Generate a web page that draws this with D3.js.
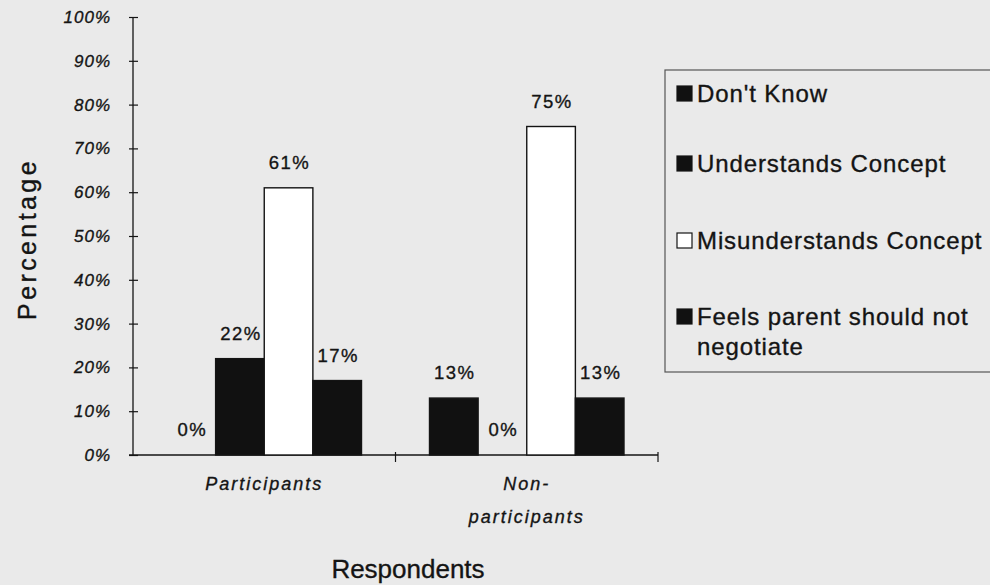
<!DOCTYPE html>
<html>
<head>
<meta charset="utf-8">
<script src="https://cdn.jsdelivr.net/npm/d3@7"></script>
<style>
  html, body { margin: 0; padding: 0; background: #eaeaea; }
  svg { display: block; font-family: Arial, "Liberation Sans", Helvetica, sans-serif; }
  text { stroke: #141414; stroke-width: 0.35px; }
</style>
</head>
<body>
<svg id="chart" width="990" height="585"></svg>
<script>
const categories = ["Participants", "Non-participants"];
const categoryLines = [["Participants"], ["Non-", "participants"]];
const series = ["Don't Know", "Understands Concept", "Misunderstands Concept", "Feels parent should not negotiate"];
const legendLines = [["Don't Know"], ["Understands Concept"], ["Misunderstands Concept"], ["Feels parent should not", "negotiate"]];
const seriesFill = ["#111", "#111", "#fff", "#111"];
const participantsValues = [0, 22, 61, 17];
const nonParticipantsValues = [13, 0, 75, 13];
const yTicks = [0, 10, 20, 30, 40, 50, 60, 70, 80, 90, 100];

const values = [participantsValues, nonParticipantsValues];

const svg = d3.select("#chart");
const ink = "#141414";

const y = d3.scaleLinear().domain([0, 100]).range([455, 17]);
const x0 = d3.scaleBand().domain(categories).range([133, 658]).padding(0);
const inset = 34;
const x1 = d3.scaleBand().domain(series).range([inset, x0.bandwidth() - inset]).padding(0);

// Y axis
const yAxis = d3.axisLeft(y).tickValues(yTicks).tickFormat(d => d + "%").tickSize(4).tickPadding(18);
const gy = svg.append("g").attr("transform", "translate(133,0)").call(yAxis);
gy.select(".domain").attr("stroke", ink).attr("stroke-width", 1.3).attr("d", `M0,${y(100)}V${y(0)}`);
gy.selectAll(".tick line").attr("x1", -4).attr("x2", 5).attr("stroke", ink).attr("stroke-width", 1.2);
gy.selectAll(".tick text")
  .attr("fill", ink).attr("font-size", 17).attr("font-style", "italic")
  .attr("letter-spacing", 1).attr("font-family", "Arial, 'Liberation Sans', sans-serif");

// X axis
const xEdges = [x0.range()[0], ...categories.map(c => x0(c) + x0.bandwidth())];
const gx = svg.append("g");
gx.append("line").attr("x1", 129).attr("x2", x0.range()[1]).attr("y1", y(0)).attr("y2", y(0))
  .attr("stroke", ink).attr("stroke-width", 1.4);
gx.selectAll("line.xt").data(xEdges.slice(1)).join("line").attr("class", "xt")
  .attr("x1", d => d).attr("x2", d => d).attr("y1", y(0) - 3).attr("y2", y(0) + 7)
  .attr("stroke", ink).attr("stroke-width", 1.2);

// Bars
const groups = svg.append("g").selectAll("g").data(categories).join("g")
  .attr("transform", d => `translate(${x0(d)},0)`);
groups.each(function(cat, ci) {
  const g = d3.select(this);
  const data = series.map((s, si) => ({ s, si, v: values[ci][si] }));
  g.selectAll("rect").data(data.filter(d => d.v > 0)).join("rect")
    .attr("x", d => x1(d.s))
    .attr("y", d => y(d.v))
    .attr("width", x1.bandwidth())
    .attr("height", d => y(0) - y(d.v))
    .attr("fill", d => seriesFill[d.si])
    .attr("stroke", ink).attr("stroke-width", 1.4);
  g.selectAll("text.val").data(data).join("text").attr("class", "val")
    .attr("x", d => x1(d.s) + x1.bandwidth() / 2 + 1)
    .attr("y", d => y(d.v) - 19)
    .attr("text-anchor", "middle")
    .attr("font-size", 18.5).attr("letter-spacing", 1.5).attr("fill", ink)
    .text(d => d.v + "%");
});

// Category labels
svg.append("g").selectAll("text").data(categories).join("text")
  .attr("text-anchor", "middle").attr("font-size", 18).attr("font-style", "italic")
  .attr("letter-spacing", 2).attr("fill", ink)
  .each(function(c, i) {
    const t = d3.select(this);
    categoryLines[i].forEach((line, li) => {
      t.append("tspan").attr("x", x0(c) + x0.bandwidth() / 2).attr("y", 490 + li * 33).text(line);
    });
  });

// Axis titles
svg.append("text").attr("x", 408).attr("y", 578).attr("text-anchor", "middle")
  .attr("font-size", 26).attr("fill", ink).text("Respondents");
svg.append("text").attr("transform", "translate(36,239) rotate(-90)").attr("text-anchor", "middle")
  .attr("font-size", 25).attr("fill", ink).attr("letter-spacing", 3.4).text("Percentage");

// Legend
const legend = svg.append("g");
legend.append("rect").attr("x", 665).attr("y", 70).attr("width", 340).attr("height", 302)
  .attr("fill", "none").attr("stroke", "#555").attr("stroke-width", 1.2);
const baselines = [102, 172, 249, 325];
const li = legend.selectAll("g.item").data(series).join("g").attr("class", "item")
  .attr("transform", (d, i) => `translate(677,${baselines[i]})`);
li.append("rect").attr("x", 0).attr("y", -16).attr("width", 15).attr("height", 15)
  .attr("fill", (d, i) => seriesFill[i]).attr("stroke", ink).attr("stroke-width", 1.2);
li.append("text").attr("x", 20).attr("y", 0).attr("font-size", 24).attr("letter-spacing", 0.9)
  .attr("fill", ink)
  .each(function(d, i) {
    const t = d3.select(this);
    legendLines[i].forEach((line, k) => {
      t.append("tspan").attr("x", 20).attr("y", k * 30).text(line);
    });
  });
</script>
</body>
</html>
